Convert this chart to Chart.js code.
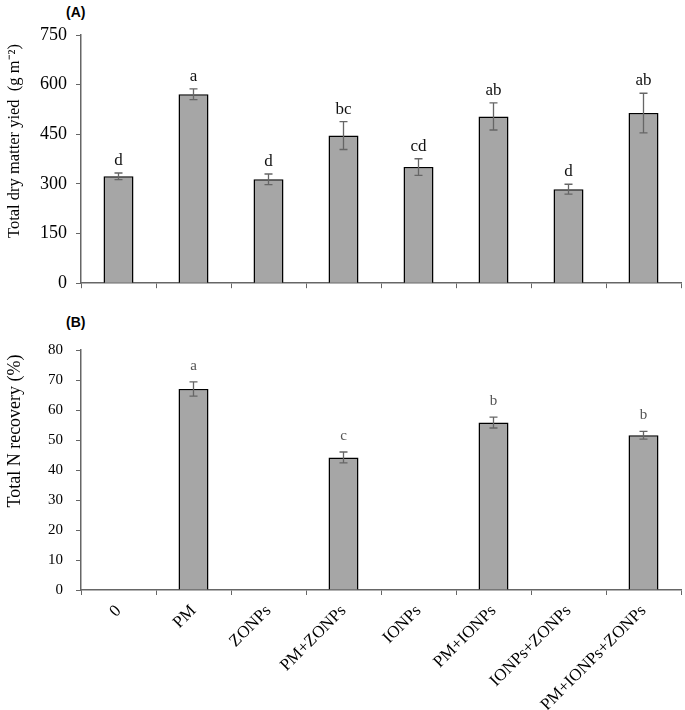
<!DOCTYPE html>
<html>
<head>
<meta charset="utf-8">
<script src="https://cdn.jsdelivr.net/npm/chart.js@4/dist/chart.umd.min.js"></script>
<style>
  body { margin: 0; background: #fff; }
  #wrap { position: relative; width: 685px; height: 710px; }
  .panel { position: absolute; left: 0; width: 685px; }
  .tag { position: absolute; font: bold 14px "Liberation Sans", sans-serif; color: #000; }
</style>
</head>
<body>
<div id="wrap">
  <div class="tag" style="left:66px;top:4px;">(A)</div>
  <div class="panel" style="top:0;height:303px;"><canvas id="dryChart"></canvas></div>
  <div class="tag" style="left:66px;top:314px;">(B)</div>
  <div class="panel" style="top:310px;height:400px;"><canvas id="nrecChart"></canvas></div>
</div>
<script>
const treatments = ['0', 'PM', 'ZONPs', 'PM+ZONPs', 'IONPs', 'PM+IONPs', 'IONPs+ZONPs', 'PM+IONPs+ZONPs'];

const dryMatter = [323, 571, 314, 446, 351, 504, 284, 514];
const dryMatterErr = [10, 16, 16, 42, 25, 41, 15, 60];
const dryMatterLetters = ['d', 'a', 'd', 'bc', 'cd', 'ab', 'd', 'ab'];

const nRecovery = [null, 67, null, 44.2, null, 55.8, null, 51.6];
const nRecoveryErr = [null, 2.4, null, 1.8, null, 1.8, null, 1.3];
const nRecoveryLetters = ['', 'a', '', 'c', '', 'b', '', 'b'];

const serif = '"Liberation Serif", "Times New Roman", serif';

// error bars + significance letters drawn on top of the bars
const errorBars = {
    id: 'errorBars',
    afterDatasetsDraw(chart, args, opts) {
        const ctx = chart.ctx;
        const xs = chart.scales.x, ys = chart.scales.y;
        const vals = chart.data.datasets[0].data;
        ctx.save();
        vals.forEach((v, i) => {
            if (v === null) return;
            const e = opts.errors[i] || 0;
            const x = xs.getPixelForValue(i);
            const yTop = ys.getPixelForValue(v + e);
            const yBot = ys.getPixelForValue(v - e);
            ctx.strokeStyle = '#666';
            ctx.lineWidth = 1.3;
            ctx.beginPath();
            ctx.moveTo(x, yTop); ctx.lineTo(x, yBot);
            ctx.moveTo(x - 4, yTop); ctx.lineTo(x + 4, yTop);
            ctx.moveTo(x - 4, yBot); ctx.lineTo(x + 4, yBot);
            ctx.stroke();
            if (opts.letters[i]) {
                ctx.fillStyle = opts.letterColor;
                ctx.font = opts.letterFont;
                ctx.textAlign = 'center';
                ctx.textBaseline = 'alphabetic';
                ctx.fillText(opts.letters[i], x, yTop - opts.gap);
            }
        });
        ctx.restore();
    }
};

// rotated y-axis title, placed a bit above the plot middle like the original
const yTitle = {
    id: 'yTitle',
    afterDraw(chart, args, opts) {
        const ctx = chart.ctx;
        ctx.save();
        ctx.translate(opts.x, opts.y);
        ctx.rotate(-Math.PI / 2);
        ctx.fillStyle = '#000';
        ctx.font = opts.font;
        ctx.textAlign = 'center';
        ctx.textBaseline = 'middle';
        ctx.fillText(opts.text, 0, 0);
        ctx.restore();
    }
};

const makeChart = (canvasId, values, errors, letters, yMax, yStep, titleText, opts) => {
    return new Chart(document.getElementById(canvasId).getContext('2d'), {
        type: 'bar',
        data: {
            labels: treatments,
            datasets: [{
                data: values,
                backgroundColor: '#a6a6a6',
                borderColor: '#000',
                borderWidth: 1.5,
                categoryPercentage: 1,
                barPercentage: 0.4
            }]
        },
        plugins: [errorBars, yTitle],
        options: {
            responsive: true,
            maintainAspectRatio: false,
            animation: false,
            layout: { padding: { top: opts.top, right: 4, left: 0, bottom: 0 } },
            plugins: {
                legend: { display: false },
                tooltip: { enabled: false },
                errorBars: {
                    errors: errors,
                    letters: letters,
                    letterColor: opts.letterColor,
                    letterFont: opts.letterFont,
                    gap: opts.gap
                },
                yTitle: {
                    text: titleText,
                    font: opts.titleFont,
                    x: 15,
                    y: opts.titleY
                }
            },
            scales: {
                x: {
                    afterFit: (s) => { s.height = opts.xHeight; },
                    grid: {
                        offset: true,
                        drawOnChartArea: false,
                        drawTicks: true,
                        tickLength: 5,
                        color: '#666'
                    },
                    border: { color: '#666', width: 1.5 },
                    ticks: {
                        display: opts.showLabels,
                        color: '#000',
                        font: { family: serif, size: 17 },
                        minRotation: 45,
                        maxRotation: 45,
                        padding: 6
                    }
                },
                y: {
                    min: 0,
                    max: yMax,
                    afterFit: (s) => { s.width = 81; },
                    grid: {
                        drawOnChartArea: false,
                        drawTicks: true,
                        tickLength: 5,
                        color: '#666'
                    },
                    border: { color: '#666', width: 1.5 },
                    ticks: {
                        stepSize: yStep,
                        color: '#000',
                        font: { family: serif, size: opts.tickSize },
                        padding: opts.tickPad
                    }
                }
            }
        }
    });
};

makeChart('dryChart', dryMatter, dryMatterErr, dryMatterLetters, 750, 150,
    'Total dry matter yied  (g m\u207B\u00B2)',
    { top: 35, xHeight: 14, showLabels: false, tickSize: 18, tickPad: 9,
      titleFont: '16.5px ' + serif, titleY: 141,
      letterColor: '#111', letterFont: '17px ' + serif, gap: 8 });

makeChart('nrecChart', nRecovery, nRecoveryErr, nRecoveryLetters, 80, 10,
    'Total N recovery (%)',
    { top: 40, xHeight: 120, showLabels: true, tickSize: 15, tickPad: 13,
      titleFont: '18px ' + serif, titleY: 121,
      letterColor: '#555', letterFont: '15px ' + serif, gap: 12 });
</script>
</body>
</html>
